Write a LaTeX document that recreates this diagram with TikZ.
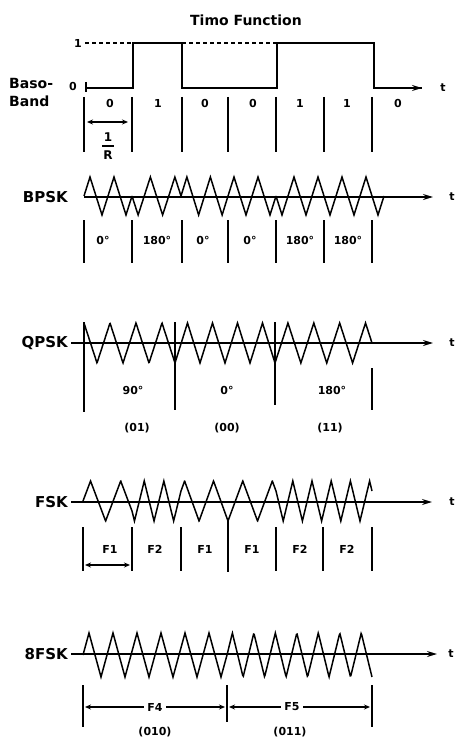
\documentclass[tikz,border=0pt]{standalone}
\usepackage{fontspec}
\newfontfamily\lblfont{DejaVu Sans}
\usetikzlibrary{arrows.meta}
\newcommand\trisegment[6]{%
  \draw[wave] plot[domain=#1:#2, samples=241] (\x, {#3 - #4*asin(sin(360*(#5 + #6*(\x-#1)/(#2-#1))))/90});
}
\begin{document}
\begin{tikzpicture}[x=1pt,y=-1pt,
  lbl/.style={font=\lblfont\bfseries\fontsize{15}{17}\selectfont, inner sep=0pt},
  sm/.style={font=\lblfont\bfseries\fontsize{11}{13}\selectfont, inner sep=0pt},
  axis/.style={line width=1.4pt, -{Stealth[length=10pt,width=6pt]}},
  sig/.style={line width=1.8pt},
  wave/.style={line width=1.5pt, line join=miter},
  bound/.style={line width=1.7pt},
  dim/.style={line width=1.3pt, {Stealth[length=6pt,width=5pt]}-{Stealth[length=6pt,width=5pt]}},
  dashline/.style={line width=1.6pt, dash pattern=on 4pt off 3pt}]
\fill[white] (0,0) rectangle (457,738);
\useasboundingbox (0,0) rectangle (457,738);

% ---------- Title and baseband ----------
\node[lbl, font=\lblfont\bfseries\fontsize{14}{16}\selectfont] (title) at (246,20) {Timo Function};
\node[lbl, anchor=west, font=\lblfont\bfseries\fontsize{14}{16}\selectfont] (baso) at (9,83) {Baso-};
\node[lbl, anchor=west, font=\lblfont\bfseries\fontsize{14}{16}\selectfont] (band) at (9,101) {Band};
\node[sm] (one) at (78,43) {1};
\node[sm] (zero) at (73,86) {0};
\draw[bound] (86,82) -- (86,92);
\coordinate (bb0) at (87,88);
\coordinate (bb1) at (133,88);
\coordinate (bb2) at (133,43);
\coordinate (bb3) at (182,43);
\coordinate (bb4) at (182,88);
\coordinate (bb5) at (277,88);
\coordinate (bb6) at (277,43);
\coordinate (bb7) at (374,43);
\coordinate (bb8) at (374,88);
\coordinate (bbE) at (422,88);
\draw[dashline] (85,43) -- (bb2);
\draw[dashline] (bb3) -- (bb6);
\draw[sig, line join=miter] (bb0) -- (bb1) -- (bb2) -- (bb3) -- (bb4) -- (bb5) -- (bb6) -- (bb7) -- (bb8) -- (bbE);
\draw[axis] (bb8) -- (bbE);
\node[sm] (tbb) at (443,88) {t};
\foreach \xx in {84,132,182,228,276,324,372} \draw[bound] (\xx,97) -- (\xx,152);
\foreach \xx/\bit in {110/0,158/1,205/0,253/0,300/1,347/1,398/0}
  \node[sm] at (\xx,103) {\bit};
\coordinate (ra) at (87,122);
\coordinate (rb) at (128,122);
\draw[dim] (ra) -- (rb);
\node[sm, font=\lblfont\bfseries\fontsize{12}{14}\selectfont] (rn) at (108,137) {1};
\node[sm, font=\lblfont\bfseries\fontsize{12}{14}\selectfont] (rd) at (108,155) {R};
\draw[line width=1.4pt] (102,146) -- (114,146);

% ---------- BPSK ----------
\node[lbl, anchor=east] (bpsk) at (68,197) {BPSK};
\coordinate (bpA) at (84,197);
\coordinate (bpE) at (433,197);
\draw[axis] (bpA) -- (bpE);
\node[sm] (tbp) at (452,197) {t};
\trisegment{84}{132}{196}{19}{0}{2}
\trisegment{132}{181}{196}{19}{0.5}{2}
\trisegment{181}{228}{196}{19}{0}{2}
\trisegment{228}{276}{196}{19}{0}{2}
\trisegment{276}{324}{196}{19}{0.5}{2}
\trisegment{324}{384}{196}{19}{0.5}{2.5}
\foreach \xx in {84,132,182,228,276,324,372} \draw[bound] (\xx,220) -- (\xx,263);
\foreach \xx/\ph in {103/0°,157/180°,203/0°,250/0°,300/180°,348/180°}
  \node[sm] at (\xx,240) {\ph};

% ---------- QPSK ----------
\node[lbl, anchor=east] (qpsk) at (68,343) {QPSK};
\coordinate (qpE) at (433,343);
\draw[axis] ([xshift=3pt]qpsk.east) -- (qpE);
\node[sm] (tqp) at (452,343) {t};
\trisegment{84}{175}{343}{20}{0.25}{3.5}
\trisegment{175}{275}{343}{20}{0.75}{4}
\trisegment{275}{372}{343}{20}{0.75}{3.75}
\draw[bound] (84,322) -- (84,412);
\draw[bound] (175,322) -- (175,410);
\draw[bound] (275,322) -- (275,405);
\draw[bound] (372,368) -- (372,410);
\node[sm] (q1) at (133,390) {90°};
\node[sm] (q2) at (227,390) {0°};
\node[sm] (q3) at (332,390) {180°};
\node[sm] (q1b) at (137,428) {(01)};
\node[sm] (q2b) at (227,428) {(00)};
\node[sm] (q3b) at (330,428) {(11)};

% ---------- FSK ----------
\node[lbl, anchor=east] (fsk) at (68,502) {FSK};
\coordinate (fsE) at (432,502);
\draw[axis] ([xshift=3pt]fsk.east) -- (fsE);
\node[sm] (tfs) at (452,502) {t};
\trisegment{83}{132}{501}{20}{0}{1.625}
\trisegment{132}{181}{501}{20}{1.625}{2.5}
\trisegment{181}{228}{501}{20}{4.125}{1.625}
\trisegment{228}{276}{501}{20}{5.75}{1.625}
\trisegment{276}{324}{501}{20}{7.375}{2.5}
\trisegment{324}{372}{501}{20}{9.875}{2.5}
\foreach \xx in {83,132,181,276,323,372} \draw[bound] (\xx,527) -- (\xx,571);
\draw[bound] (228,520) -- (228,572);
\foreach \xx/\f in {110/F1,155/F2,205/F1,252/F1,300/F2,347/F2}
  \node[sm] at (\xx,549) {\f};
\coordinate (fa) at (85,565);
\coordinate (fb) at (130,565);
\draw[dim] (fa) -- (fb);

% ---------- 8FSK ----------
\node[lbl, anchor=east] (efsk) at (68,654) {8FSK};
\coordinate (efE) at (437,654);
\draw[axis] ([xshift=3pt]efsk.east) -- (efE);
\node[sm] (tef) at (451,654) {t};
\trisegment{83}{227}{655}{22}{0}{6}
\trisegment{227}{372}{655}{22}{0}{6.75}
\draw[bound] (83,685) -- (83,727);
\draw[bound] (227,685) -- (227,722);
\draw[bound] (372,685) -- (372,727);
\coordinate (e1a) at (85,707);
\coordinate (e1b) at (225,707);
\coordinate (e2a) at (229,707);
\coordinate (e2b) at (370,707);
\draw[dim] (e1a) -- (e1b);
\draw[dim] (e2a) -- (e2b);
\node[sm, fill=white, inner xsep=3pt, inner ysep=1pt] (f4) at (155,707) {F4};
\node[sm, fill=white, inner xsep=3pt, inner ysep=1pt] (f5) at (292,707) {F5};
\node[sm] (f4b) at (155,732) {(010)};
\node[sm] (f5b) at (290,732) {(011)};
\end{tikzpicture}
\end{document}
